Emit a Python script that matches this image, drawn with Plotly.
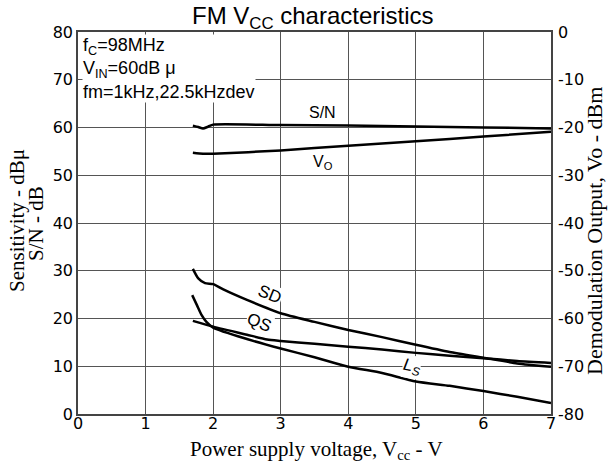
import plotly.graph_objects as go

# Supply voltage sweeps (V) and measured curves
sn_vcc = [1.70, 1.78, 1.85, 1.93, 2.00, 3.00, 4.00, 5.00, 6.00, 7.00]
sn_db = [60.4, 60.1, 59.8, 60.2, 60.6, 60.5, 60.4, 60.2, 60.0, 59.8]

vo_vcc = [1.70, 1.85, 2.00, 3.00, 4.00, 5.00, 6.00, 7.00]
vo_dbm = [-25.3, -25.5, -25.5, -24.8, -23.8, -22.9, -21.9, -20.9]

sd_vcc = [1.70, 1.78, 1.88, 2.00, 2.15, 2.50, 3.00, 3.50, 4.00, 4.50, 5.00, 5.50, 6.00, 6.50, 7.00]
sd_dbu = [30.4, 28.4, 27.4, 27.2, 26.1, 23.9, 21.1, 19.3, 17.6, 16.1, 14.5, 13.0, 11.8, 10.6, 9.9]

qs_vcc = [1.70, 2.00, 2.50, 2.80, 3.00, 3.50, 4.00, 4.50, 5.00, 5.50, 6.00, 6.50, 7.00]
qs_dbu = [19.5, 18.3, 16.6, 15.6, 15.3, 14.7, 14.1, 13.5, 12.8, 12.2, 11.7, 11.1, 10.7]

ls_vcc = [1.69, 1.76, 1.83, 1.90, 2.00, 2.50, 3.00, 3.50, 4.00, 4.50, 5.00, 5.50, 6.00, 6.50, 7.00]
ls_dbu = [24.9, 22.8, 20.7, 19.3, 18.1, 15.7, 13.7, 11.9, 9.9, 8.6, 6.8, 5.9, 4.8, 3.6, 2.3]

# Axis ticks
x_ticks = [0, 1, 2, 3, 4, 5, 6, 7]
left_ticks = [0, 10, 20, 30, 40, 50, 60, 70, 80]
right_ticks = [0, -10, -20, -30, -40, -50, -60, -70, -80]
right_ticktext = ["0", "-10", "-20", "-30", "-40", "-50", "-60", "-70", "-80"]

SANS = "Liberation Sans, Arial, sans-serif"
TICK = "DejaVu Sans, sans-serif"
SERIF = "Liberation Serif, Times New Roman, serif"

line = dict(color="black", width=2.5)

fig = go.Figure()
fig.add_trace(go.Scatter(x=sn_vcc, y=sn_db, mode="lines", line=dict(line, shape="spline", smoothing=0.6)))
fig.add_trace(go.Scatter(x=vo_vcc, y=vo_dbm, mode="lines", yaxis="y2",
                         line=dict(line, shape="spline", smoothing=0.6)))
fig.add_trace(go.Scatter(x=sd_vcc, y=sd_dbu, mode="lines", line=dict(line, shape="spline", smoothing=0.6)))
fig.add_trace(go.Scatter(x=qs_vcc, y=qs_dbu, mode="lines", line=dict(line, shape="spline", smoothing=0.6)))
fig.add_trace(go.Scatter(x=ls_vcc, y=ls_dbu, mode="lines", line=dict(line, shape="spline", smoothing=0.6)))

L, R, T, B = 78, 57, 32, 51
W, H = 608, 465
PW, PH = W - L - R, H - T - B


def px(x, y):
    """Pixel position -> paper coordinates."""
    return (x - L) / PW, (H - B - y) / PH


annotations = []


def note(text, x, y, size, family=SANS, angle=0, bg=None, xanchor="center",
         yanchor="middle", **kw):
    xp, yp = px(x, y)
    annotations.append(dict(text=text, x=xp, y=yp, xref="paper", yref="paper",
                            xanchor=xanchor, yanchor=yanchor,
                            showarrow=False, textangle=angle,
                            font=dict(family=family, size=size, color="black"),
                            bgcolor=bg, borderpad=0, **kw))


note("FM V<sub>CC</sub> characteristics", 313, 17, 24)
note("f<sub>C</sub>=98MHz<br>V<sub>IN</sub>=60dB μ<br>fm=1kHz,22.5kHzdev", 82, 34, 18,
     bg="white", xanchor="left", yanchor="top", align="left")
note("S/N", 322, 113, 16)
note("V<sub>O</sub>", 323, 162, 16)
note("SD", 270, 294, 17, angle=22, bg="white")
note("QS", 259, 322, 17, angle=22, bg="white")
note("<i>L<sub>S</sub></i>", 411, 367, 17, angle=10, bg="white")
note("Sensitivity - dBμ", 17, 221, 21, family=SERIF, angle=-90)
note("S/N - dB", 36, 224, 21, family=SERIF, angle=-90)
note("Power supply voltage, V<sub>cc</sub> - V", 316, 450, 21, family=SERIF)
note("Demodulation Output, Vo - dBm", 594, 231, 22, family=SERIF, angle=-90)

axis_common = dict(showline=True, linecolor="#444", linewidth=1.5, mirror=True,
                   ticks="", zeroline=False, tickfont=dict(family=TICK, size=16, color="black"))

fig.update_layout(
    width=W, height=H,
    margin=dict(l=L, r=R, t=T, b=B, pad=0),
    paper_bgcolor="white", plot_bgcolor="white",
    showlegend=False,
    xaxis=dict(axis_common, range=[0, 7], tickvals=x_ticks, showgrid=True,
               gridcolor="#555", gridwidth=1, ticklabelstandoff=-6),
    yaxis=dict(axis_common, range=[0, 80], tickvals=left_ticks, showgrid=True,
               gridcolor="#555", gridwidth=1, ticklabelstandoff=0),
    yaxis2=dict(axis_common, range=[-80, 0], tickvals=right_ticks, ticktext=right_ticktext,
                overlaying="y", side="right", showgrid=False, ticklabelstandoff=2),
    annotations=annotations,
)

fig.write_html("out.html")
